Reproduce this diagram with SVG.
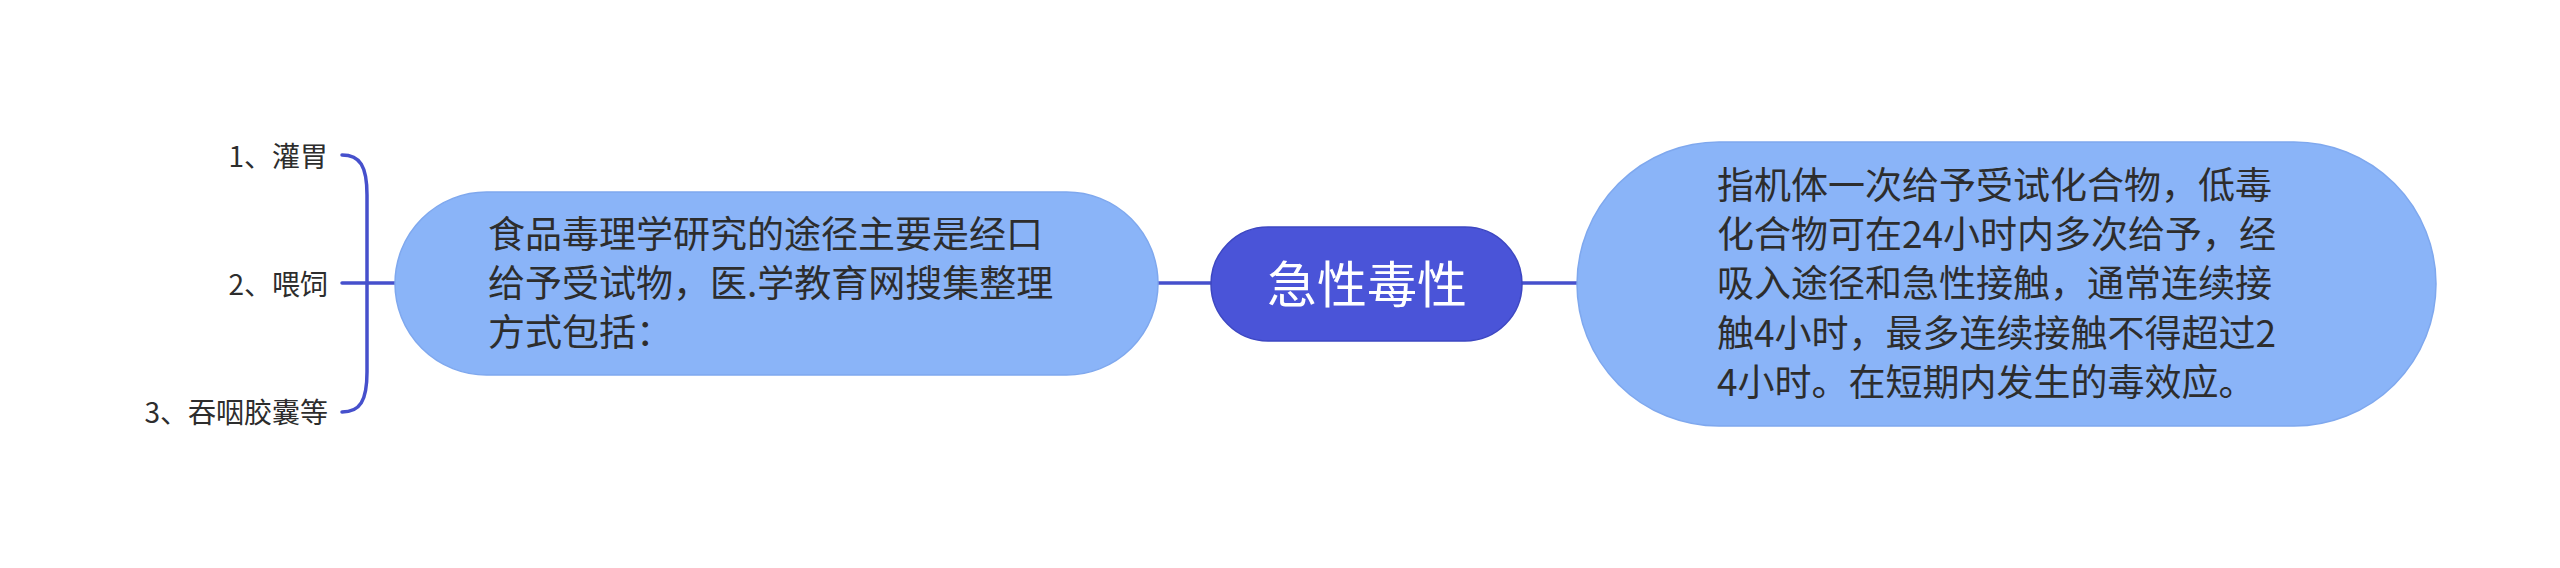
<svg xmlns="http://www.w3.org/2000/svg" width="2560" height="568" viewBox="0 0 2560 568">
<style>
.conn{fill:none;stroke:#4650CC;stroke-width:3.5;stroke-linecap:round}
.sub{fill:#8AB4F8;stroke:#7FA8EE;stroke-width:1.5}
.root{fill:#4A54D8;stroke:#3D47C2;stroke-width:1.5}
.t{font-family:"Noto Sans CJK SC","Noto Sans",sans-serif;fill:#2D2D2D}
.lbl{font-size:28px}
.body{font-size:37px}
.rt{font-family:"Noto Sans CJK SC","Noto Sans",sans-serif;fill:#FFFFFF;font-size:50px}
</style>
<rect width="2560" height="568" fill="#FFFFFF"/>
<g id="connectors">
<line class="conn" x1="1158" y1="283" x2="1211" y2="283"/>
<line class="conn" x1="1522" y1="283" x2="1577" y2="283"/>
<line class="conn" x1="342" y1="283" x2="395" y2="283"/>
<path class="conn" d="M342,155 C360,155 367,166 367,195 L367,372 C367,401 360,412 342,412"/>
</g>
<g id="root">
<rect class="root" x="1211" y="227" width="311" height="114" rx="57" ry="57"/>
<text class="rt" x="1367" y="303" text-anchor="middle">急性毒性</text>
</g>
<g id="node-left">
<rect class="sub" x="395" y="192" width="763" height="183" rx="91.5" ry="91.5"/>
<text class="t body" x="488" y="248">食品毒理学研究的途径主要是经口</text>
<text class="t body" x="488" y="297">给予受试物，医.学教育网搜集整理</text>
<text class="t body" x="488" y="346">方式包括：</text>
</g>
<g id="node-right">
<rect class="sub" x="1577" y="142" width="859" height="284" rx="142" ry="142"/>
<text class="t body" x="1717" y="199">指机体一次给予受试化合物，低毒</text>
<text class="t body" x="1717" y="248">化合物可在24小时内多次给予，经</text>
<text class="t body" x="1717" y="297">吸入途径和急性接触，通常连续接</text>
<text class="t body" x="1717" y="347">触4小时，最多连续接触不得超过2</text>
<text class="t body" x="1717" y="396">4小时。在短期内发生的毒效应。</text>
</g>
<g id="leaf-1">
<text class="t lbl" x="328" y="167" text-anchor="end">1、灌胃</text>
</g>
<g id="leaf-2">
<text class="t lbl" x="328" y="295" text-anchor="end">2、喂饲</text>
</g>
<g id="leaf-3">
<text class="t lbl" x="328" y="423" text-anchor="end">3、吞咽胶囊等</text>
</g>
</svg>
